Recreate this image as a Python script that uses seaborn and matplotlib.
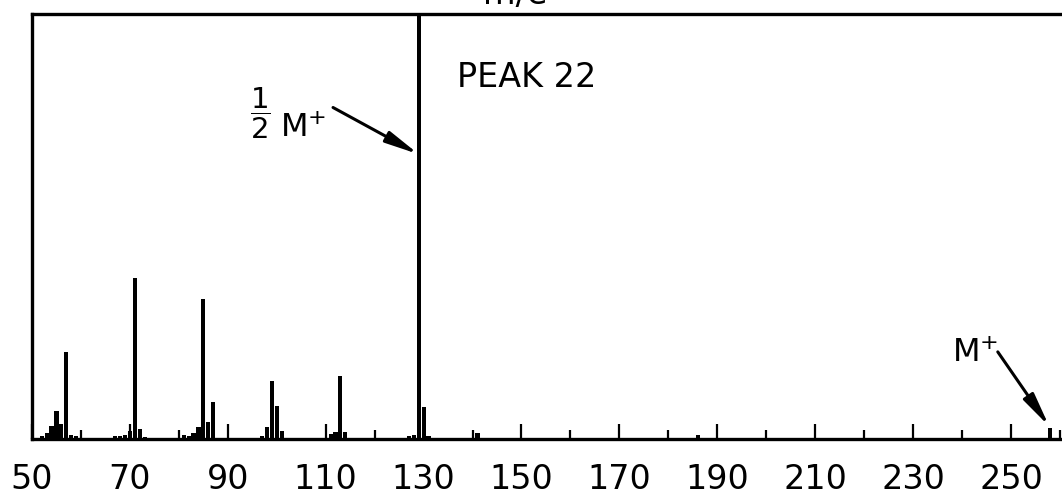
import numpy as np
import pandas as pd
import matplotlib
matplotlib.use('Agg')
import matplotlib.pyplot as plt
import seaborn as sns

# m/e values and relative intensity (% of full scale)
mz = [52, 53, 54, 55, 56, 57, 58, 59,
      67, 68, 69, 70, 71, 72, 73,
      81, 82, 83, 84, 85, 86, 87,
      97, 98, 99, 100, 101,
      111, 112, 113, 114,
      127, 128, 129, 130, 131,
      141, 186, 258]
intensity = [0.8, 1.5, 3.0, 6.5, 3.5, 20.5, 1.0, 0.6,
             0.6, 0.8, 1.0, 2.0, 37.9, 2.3, 0.5,
             1.0, 0.8, 1.4, 2.8, 33.0, 4.0, 8.7,
             0.8, 2.8, 13.6, 7.8, 1.9,
             1.2, 1.6, 14.8, 1.6,
             0.8, 1.0, 100.0, 7.5, 0.8,
             1.3, 1.0, 2.5]

major_ticks = list(range(50, 251, 20))
minor_ticks = list(range(60, 261, 20))
tick_labels = [str(t) for t in major_ticks]

sns.set_style('white')
plt.rcParams['font.family'] = ['DejaVu Sans']
plt.rcParams['mathtext.fontset'] = 'dejavusans'
plt.rcParams['text.color'] = 'black'
plt.rcParams['xtick.color'] = 'black'

df = pd.DataFrame({'mz': mz, 'intensity': intensity})

fig = plt.figure(figsize=(10.62, 5.01), dpi=100)
ax = fig.add_axes([32 / 1062, 62 / 501, 1 - 32 / 1062, 425 / 501])

sns.histplot(data=df, x='mz', weights='intensity', discrete=True, shrink=0.85,
             color='black', alpha=1, linewidth=0, ax=ax)

ax.set_xlim(50, 50 + 1030 / 4.895)
ax.set_ylim(0, 100)
ax.set_xlabel('')
ax.set_ylabel('')
ax.set_yticks([])

for side in ['left', 'top', 'bottom']:
    ax.spines[side].set_linewidth(2.4)
    ax.spines[side].set_color('black')
ax.spines['right'].set_visible(False)

ax.set_xticks(major_ticks)
ax.set_xticklabels(tick_labels)
ax.set_xticks(minor_ticks, minor=True)
ax.tick_params(axis='x', which='both', bottom=True, top=False)
ax.tick_params(axis='x', which='major', direction='in', length=10.8, width=1.6,
               labelsize=24, pad=17, color='black', labelcolor='black')
ax.tick_params(axis='x', which='minor', direction='in', length=6.5, width=1.6,
               color='black')

# annotations
arrow = dict(arrowstyle='-|>,head_length=1.0,head_width=0.18', lw=2.2,
             color='black', shrinkA=0, shrinkB=0, mutation_scale=20)
ax.text(151, 85, 'PEAK 22', fontsize=24, ha='center', va='center')

ax.text(96.6, 76.5, r'$\dfrac{1}{2}$', fontsize=21, ha='center', va='center')
ax.text(100.6, 71, r'M$^{+}$', fontsize=23, ha='left', va='baseline')
ax.annotate('', xy=(129, 67), xytext=(111.5, 78), arrowprops=arrow)

ax.text(237.9, 18.1, r'M$^{+}$', fontsize=23, ha='left', va='baseline')
ax.annotate('', xy=(257.8, 3), xytext=(247.3, 20.5), arrowprops=arrow)

fig.text(515 / 1062, 1 - 4 / 501, 'm/e', fontsize=24, ha='center', va='baseline')

fig.savefig('out.png', dpi=100)
